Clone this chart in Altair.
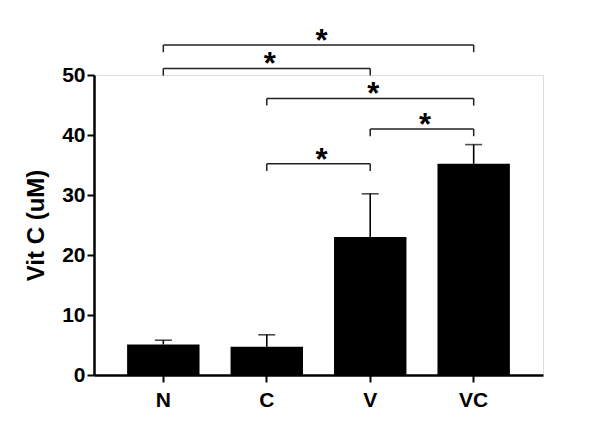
import altair as alt
import pandas as pd

cats = ["N", "C", "V", "VC"]
means = [5.1, 4.7, 23.0, 35.2]
upper = [5.8, 6.7, 30.2, 38.4]

br_left = ["N", "N", "C", "V", "C"]
br_right = ["VC", "V", "VC", "VC", "V"]
br_level = [55.0, 51.1, 46.1, 41.0, 35.2]
br_drop = 1.2
br_label = ["*", "*", "*", "*", "*"]

FONT = "Liberation Sans"

bars_df = pd.DataFrame({"cat": cats, "mean": means, "upper": upper})
br_df = pd.DataFrame({"l": br_left, "r": br_right, "lev": br_level, "lab": br_label})
idx = {c: i for i, c in enumerate(cats)}
legs = []
for l, r, lev in zip(br_left, br_right, br_level):
    legs.append({"cat": l, "lev": lev, "low": lev - br_drop})
    legs.append({"cat": r, "lev": lev, "low": lev - br_drop})
legs_df = pd.DataFrame(legs)

PI, PO = 0.3, 0.32
xscale = alt.Scale(domain=cats, paddingInner=PI, paddingOuter=PO)
yscale = alt.Scale(domain=[0, 50])

xenc = alt.X("cat:N", scale=xscale, sort=cats, title=None,
             axis=alt.Axis(labelAngle=0, labelFont=FONT, labelFontSize=21,
                           labelFontWeight="bold", labelColor="black",
                           domainColor="black", domainWidth=2.5,
                           tickColor="black", tickWidth=2, tickSize=7,
                           labelPadding=7))

bars = alt.Chart(bars_df).mark_bar(color="black").encode(
    x=xenc,
    y=alt.Y("mean:Q", scale=yscale, title="Vit C (uM)",
            axis=alt.Axis(values=[0, 10, 20, 30, 40, 50], grid=False,
                          labelFont=FONT, labelFontSize=21, labelFontWeight="bold",
                          labelColor="black", domainColor="black", domainWidth=2.5,
                          tickColor="black", tickWidth=2, tickSize=7, labelPadding=2,
                          titleFont=FONT, titleFontSize=24, titleFontWeight="bold",
                          titleColor="black", titleAngle=270, titleX=-58, titleY=150,
                          titleAlign="center", titleBaseline="middle")),
)

err = alt.Chart(bars_df).mark_rule(color="black", strokeWidth=1.6).encode(
    x=alt.X("cat:N", scale=xscale, sort=cats),
    y=alt.Y("mean:Q", scale=yscale),
    y2="upper:Q",
)
caps = alt.Chart(bars_df).mark_tick(color="black", thickness=1.6, size=17).encode(
    x=alt.X("cat:N", scale=xscale, sort=cats),
    y=alt.Y("upper:Q", scale=yscale),
)

hlines = alt.Chart(br_df).mark_rule(color="#222222", strokeWidth=1.5).encode(
    x=alt.X("l:N", scale=xscale, sort=cats),
    x2="r:N",
    y=alt.Y("lev:Q", scale=yscale),
)
vlegs = alt.Chart(legs_df).mark_rule(color="#222222", strokeWidth=1.5).encode(
    x=alt.X("cat:N", scale=xscale, sort=cats),
    y=alt.Y("lev:Q", scale=yscale),
    y2="low:Q",
)

step_units = len(cats) - PI + 2 * PO
ast_rows = []
for l, r, lev, lab in zip(br_left, br_right, br_level, br_label):
    mid = (idx[l] + idx[r]) / 2 + PO + (1 - PI) / 2
    ast_rows.append({"pos": mid, "lev": lev, "lab": lab})
ast_df = pd.DataFrame(ast_rows)
stars = alt.Chart(ast_df).mark_text(font=FONT, fontSize=31, fontWeight="bold",
                                    color="black", baseline="alphabetic", dy=6, dx=3).encode(
    x=alt.X("pos:Q", scale=alt.Scale(domain=[0, step_units], nice=False, zero=False), axis=None),
    y=alt.Y("lev:Q", scale=yscale),
    text="lab:N",
)

base = alt.layer(bars, err, caps, hlines, vlegs)
chart = alt.layer(base, stars).resolve_scale(x="independent").properties(
    width=449, height=300,
    autosize=alt.AutoSizeParams(type="none"),
    padding={"left": 86, "top": 67, "right": 62, "bottom": 46},
).configure_view(stroke=None).configure(background="white")

chart.save("out.html", embed_options={"renderer": "svg", "actions": False})
